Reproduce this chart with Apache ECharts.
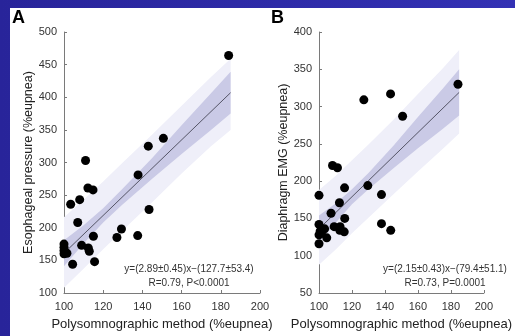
<!DOCTYPE html>
<html>
<head>
<meta charset="utf-8">
<script src="https://cdn.jsdelivr.net/npm/echarts@6/dist/echarts.min.js"></script>
<style>
  html, body { margin: 0; padding: 0; width: 515px; height: 336px; overflow: hidden;
    background: linear-gradient(90deg, #28249a, #3331b4); }
  #paper { position: absolute; left: 10px; top: 8px; right: 0; bottom: 0; background: #fff; }
  #chart { position: absolute; left: 0; top: 0; width: 515px; height: 336px; }
</style>
</head>
<body>
<div id="paper"></div>
<div id="chart"></div>
<script>
const bandX = [100, 110, 120, 130, 145, 160, 175, 185]

// A: esophageal pressure
const pointsA = [
  [111, 303], [112.2, 261], [114.8, 258], [103.4, 236], [108, 243], [107, 208],
  [115, 187], [109, 173], [112.4, 169], [112.9, 164], [115.6, 148], [104.4, 144],
  [99.7, 127], [100, 175], [100, 170], [100, 165], [100, 160], [101.5, 161],
  [99.6, 157], [127, 185], [129.3, 198], [137.6, 188], [137.8, 281], [143.4, 228],
  [143, 325], [150.7, 337], [184, 464]
]
const fitA = [[100, 161], [185, 407]]
const innerUpA = [181, 204, 230, 260, 307, 357, 406, 439]
const innerLoA = [141, 176, 208, 236, 275, 313, 350, 375]
const outerUpA = [216, 243, 271, 300, 343, 387, 431, 459]
const outerLoA = [108, 137, 167, 196, 239, 283, 325, 350]

// B: diaphragm EMG
const pointsB = [
  [127.2, 309], [143.4, 317], [150.7, 287], [184.3, 330], [108.2, 221], [111.2, 218],
  [100, 181], [115.5, 191], [129.6, 194], [137.9, 182], [112.4, 171], [107.3, 157],
  [115.6, 150], [100, 142], [109.2, 139], [112.8, 139], [112.6, 134], [115.3, 132],
  [103.4, 136], [100.7, 133], [101.4, 130], [100, 128], [104.7, 124], [100, 116],
  [137.9, 143], [143.5, 134]
]
const fitB = [[100, 136], [185, 319]]
const innerUpB = [154, 170, 189, 211, 247, 286, 324, 350]
const innerLoB = [118, 144, 169, 189, 217, 244, 270, 288]
const outerUpB = [188, 207, 228, 249, 282, 317, 351, 376]
const outerLoB = [88, 108, 130, 151, 182, 213, 243, 264]

const xTicks = { min: 100, max: 200, interval: 20 }
const yTicksA = { min: 100, max: 500, interval: 50 }
const yTicksB = { min: 50, max: 400, interval: 50 }

const font = 'Liberation Sans, Arial, sans-serif'
const axisGray = '#7a7a7a'

function band(idx, up, lo, color) {
  return {
    type: 'custom',
    xAxisIndex: idx, yAxisIndex: idx,
    data: [[bandX[0], up[0]]],
    silent: true,
    z: 1,
    renderItem: function (params, api) {
      const pts = []
      for (let i = 0; i < bandX.length; i++) pts.push(api.coord([bandX[i], up[i]]))
      for (let i = bandX.length - 1; i >= 0; i--) pts.push(api.coord([bandX[i], lo[i]]))
      return { type: 'polygon', shape: { points: pts }, style: { fill: color } }
    }
  }
}

function xAxis(idx, name) {
  return {
    type: 'value', gridIndex: idx, min: xTicks.min, max: xTicks.max, interval: xTicks.interval,
    name: name, nameLocation: 'middle', nameGap: 25,
    nameTextStyle: { fontFamily: font, fontSize: 13, color: '#222' },
    axisLine: { lineStyle: { color: axisGray } },
    axisTick: { inside: true, length: 3, lineStyle: { color: axisGray } },
    axisLabel: { fontFamily: font, fontSize: 11, color: '#333', margin: 8 },
    splitLine: { show: false }
  }
}

function yAxis(idx, t, name) {
  return {
    type: 'value', gridIndex: idx, min: t.min, max: t.max, interval: t.interval,
    name: name, nameLocation: 'middle', nameGap: 28,
    nameTextStyle: { fontFamily: font, fontSize: 12.5, color: '#222' },
    axisLine: { show: true, lineStyle: { color: axisGray } },
    axisTick: { show: true, inside: true, length: 3, lineStyle: { color: axisGray } },
    axisLabel: { fontFamily: font, fontSize: 11, color: '#333', margin: 7 },
    splitLine: { show: false }
  }
}

function text(x, y, str, size, bold) {
  return {
    type: 'text', x: x, y: y,
    style: { text: str, fontFamily: font, fontSize: size, fontWeight: bold ? 'bold' : 'normal',
      fill: bold ? '#000' : '#333', align: bold ? 'left' : 'center', verticalAlign: bold ? 'top' : 'middle' }
  }
}

const chart = echarts.init(document.getElementById('chart'))
chart.setOption({
  animation: false,
  backgroundColor: 'transparent',
  grid: [
    { left: 64, top: 32, width: 196, height: 264 },
    { left: 319, top: 32, width: 196, height: 264 }
  ],
  xAxis: [xAxis(0, 'Polysomnographic method (%eupnea)'), xAxis(1, 'Polysomnographic method (%eupnea)')],
  yAxis: [yAxis(0, yTicksA, 'Esophageal pressure (%eupnea)'), yAxis(1, yTicksB, 'Diaphragm EMG (%eupnea)')],
  series: [
    band(0, outerUpA, outerLoA, '#efeff9'),
    band(0, innerUpA, innerLoA, '#cacae6'),
    { type: 'line', xAxisIndex: 0, yAxisIndex: 0, data: fitA, symbol: 'none', z: 2,
      lineStyle: { color: '#555566', width: 1 } },
    { type: 'scatter', xAxisIndex: 0, yAxisIndex: 0, data: pointsA, symbolSize: 9, z: 3,
      itemStyle: { color: '#000', opacity: 1 } },
    band(1, outerUpB, outerLoB, '#efeff9'),
    band(1, innerUpB, innerLoB, '#cacae6'),
    { type: 'line', xAxisIndex: 1, yAxisIndex: 1, data: fitB, symbol: 'none', z: 2,
      lineStyle: { color: '#555566', width: 1 } },
    { type: 'scatter', xAxisIndex: 1, yAxisIndex: 1, data: pointsB, symbolSize: 9, z: 3,
      itemStyle: { color: '#000', opacity: 1 } }
  ],
  graphic: [
    text(12, 9, 'A', 18, true),
    text(271, 9, 'B', 18, true),
    text(189, 269, 'y=(2.89±0.45)x−(127.7±53.4)', 10),
    text(189, 283, 'R=0.79, P<0.0001', 10),
    text(445, 269, 'y=(2.15±0.43)x−(79.4±51.1)', 10),
    text(445, 283, 'R=0.73, P=0.0001', 10)
  ]
})
</script>
</body>
</html>
